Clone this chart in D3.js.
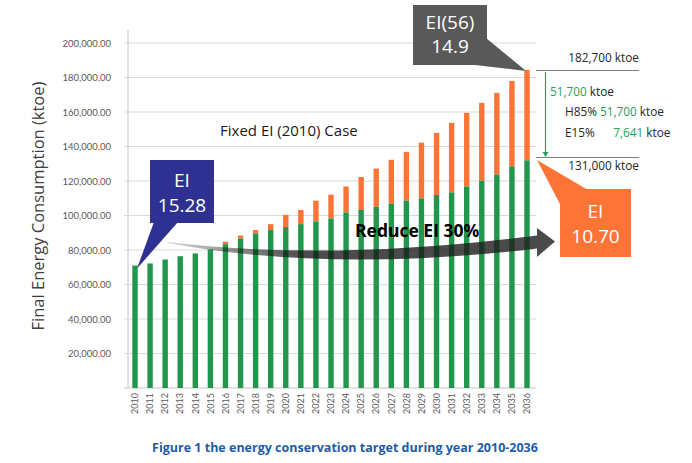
<!DOCTYPE html>
<html>
  <head>
    <meta charset="utf-8">
    <title>Energy conservation target 2010-2036</title>
    <script src="https://d3js.org/d3.v7.min.js" charset="utf-8"></script>
    <style>
      body { margin: 0; background: #fff; }
      svg text { font-family: "Open Sans", sans-serif; }
    </style>
  </head>
  <body>
    <script>
      var width = 692,
          height = 463;

      // data (ktoe)
      var years = [2010, 2011, 2012, 2013, 2014, 2015, 2016, 2017, 2018, 2019,
                   2020, 2021, 2022, 2023, 2024, 2025, 2026, 2027, 2028, 2029,
                   2030, 2031, 2032, 2033, 2034, 2035, 2036];
      // target consumption (green)
      var target = [71000, 72200, 74500, 76400, 78000, 80300, 83400, 86700, 89600, 91600,
                    93300, 95000, 96600, 98300, 101800, 103200, 105100, 106800, 108600, 109900,
                    111900, 113400, 116800, 120200, 123800, 128500, 132000];
      // fixed EI (2010) case total (top of orange)
      var fixedCase = [71000, 72200, 74500, 76400, 78000, 80300, 84800, 88400, 91600, 95000,
                       100400, 103200, 108600, 112100, 116800, 122300, 127200, 132300, 136900, 142200,
                       147900, 153700, 159500, 165300, 171100, 178000, 184400];
      var yTicks = [20000, 40000, 60000, 80000, 100000, 120000, 140000, 160000, 180000, 200000];

      var green = "#22964c",
          orange = "#fd7436",
          gridColor = "#d9d9d9",
          tickColor = "#595959";

      var svg = d3.select("body").append("svg")
          .attr("width", width)
          .attr("height", height);

      var x = d3.scalePoint()
          .domain(years)
          .range([135, 527]);

      var y = d3.scaleLinear()
          .domain([0, 200000])
          .range([388, 43]);

      var barW = 5.4;

      // gridlines
      svg.append("g")
        .selectAll("line")
        .data(yTicks)
        .enter()
        .append("line")
          .attr("x1", 124).attr("x2", 536)
          .attr("y1", function(d) { return y(d); })
          .attr("y2", function(d) { return y(d); })
          .attr("stroke", gridColor);

      // y axis with formatted labels
      var fmt = d3.format(",.2f");
      var yAxis = d3.axisLeft(y)
          .tickValues(yTicks)
          .tickSize(0)
          .tickPadding(0)
          .tickFormat(fmt);
      var gy = svg.append("g")
          .attr("transform", "translate(111,0)")
          .call(yAxis);
      gy.select(".domain").remove();
      gy.selectAll("text")
          .attr("fill", tickColor)
          .style("font-family", "Lato, sans-serif")
          .style("font-size", "9.5px");

      // axis lines
      svg.append("line")
          .attr("x1", 128).attr("x2", 128)
          .attr("y1", 30).attr("y2", y(0))
          .attr("stroke", gridColor).attr("stroke-width", 1.5);
      svg.append("line")
          .attr("x1", 124).attr("x2", 536)
          .attr("y1", y(0)).attr("y2", y(0))
          .attr("stroke", gridColor).attr("stroke-width", 1.5);

      // stacked bars
      var rows = years.map(function(yr, i) {
        return { year: yr, target: target[i], total: fixedCase[i] };
      });

      svg.append("g")
        .selectAll("rect.total")
        .data(rows)
        .enter()
        .append("rect")
          .attr("x", function(d) { return x(d.year) - barW / 2; })
          .attr("width", barW)
          .attr("y", function(d) { return y(d.total); })
          .attr("height", function(d) { return y(d.target) - y(d.total); })
          .attr("fill", orange);

      svg.append("g")
        .selectAll("rect.target")
        .data(rows)
        .enter()
        .append("rect")
          .attr("x", function(d) { return x(d.year) - barW / 2; })
          .attr("width", barW)
          .attr("y", function(d) { return y(d.target); })
          .attr("height", function(d) { return y(0) - y(d.target); })
          .attr("fill", green);

      // year labels
      svg.append("g")
        .selectAll("text")
        .data(years)
        .enter()
        .append("text")
          .attr("transform", function(d) { return "translate(" + (x(d) + 3.2) + ",393) rotate(-90)"; })
          .attr("text-anchor", "end")
          .attr("fill", tickColor)
          .style("font-family", "Lato, sans-serif")
          .style("font-size", "9px")
          .text(function(d) { return d; });

      // y axis title
      svg.append("text")
          .attr("transform", "translate(44,206) rotate(-90)")
          .attr("text-anchor", "middle")
          .attr("fill", "#404040")
          .style("font-size", "16.5px")
          .text("Final Energy Consumption (ktoe)");

      svg.append("text")
          .attr("x", 220).attr("y", 136)
          .attr("fill", "#1a1a1a")
          .style("font-size", "15px")
          .text("Fixed EI (2010) Case");

      // curved "reduce" arrow
      var defs = svg.append("defs");
      var grad = defs.append("linearGradient")
          .attr("id", "arrowGrad")
          .attr("x1", "0%").attr("x2", "100%");
      grad.append("stop").attr("offset", "0%").attr("stop-color", "#000").attr("stop-opacity", 0.15);
      grad.append("stop").attr("offset", "35%").attr("stop-color", "#111").attr("stop-opacity", 0.75);
      grad.append("stop").attr("offset", "100%").attr("stop-color", "#222").attr("stop-opacity", 0.82);

      var ax0 = x(2012) + 3, ax1 = 537;
      var arrowPath = d3.path();
      arrowPath.moveTo(ax0, 242);
      arrowPath.quadraticCurveTo(330, 262, ax1, 235.5);
      arrowPath.lineTo(ax1, 228);
      arrowPath.lineTo(555, 241.5);
      arrowPath.lineTo(ax1, 257);
      arrowPath.lineTo(ax1, 248.5);
      arrowPath.quadraticCurveTo(330, 273, ax0, 243);
      arrowPath.closePath();
      svg.append("path")
          .attr("d", arrowPath.toString())
          .attr("fill", "url(#arrowGrad)");

      svg.append("text")
          .attr("x", 355).attr("y", 237)
          .attr("fill", "#000")
          .style("font-size", "17.5px")
          .style("font-weight", "bold")
          .text("Reduce EI 30%");

      // callouts
      function callout(box, tail, fill, lines, cx, baselines) {
        svg.append("path")
            .attr("d", d3.line()(tail) + "Z")
            .attr("fill", fill);
        svg.append("rect")
            .attr("x", box[0]).attr("y", box[1])
            .attr("width", box[2]).attr("height", box[3])
            .attr("fill", fill);
        lines.forEach(function(t, i) {
          svg.append("text")
              .attr("x", cx).attr("y", baselines[i])
              .attr("text-anchor", "middle")
              .attr("fill", "#fff")
              .style("font-size", "19px")
              .text(t);
        });
      }

      var first = x(years[0]), last = x(years[years.length - 1]);

      callout([150, 160, 64, 63],
              [[154, 222], [first + 2, y(target[0]) + 3], [178, 222]],
              "#2e3192", ["EI", "15.28"], 182, [187, 212]);

      callout([413, 5, 74, 60],
              [[486, 38], [last - 1, y(fixedCase[fixedCase.length - 1]) + 1], [466, 64]],
              "#595959", ["EI(56)", "14.9"], 450, [29, 53]);

      callout([560, 189, 71, 68],
              [[537, 160], [588, 190], [561, 206]],
              orange, ["EI", "10.70"], 595.5, [218, 243]);

      // right side annotations
      var annoGreen = "#23a35a";
      svg.append("line")
          .attr("x1", 536).attr("x2", 639)
          .attr("y1", 70.5).attr("y2", 70.5)
          .attr("stroke", "#7f7f7f");
      svg.append("line")
          .attr("x1", 536).attr("x2", 639)
          .attr("y1", 157.5).attr("y2", 157.5)
          .attr("stroke", "#7f7f7f");

      svg.append("line")
          .attr("x1", 545.5).attr("x2", 545.5)
          .attr("y1", 72).attr("y2", 153)
          .attr("stroke", annoGreen).attr("stroke-width", 1.2);
      svg.append("path")
          .attr("d", "M542.5,152L548.5,152L545.5,157Z")
          .attr("fill", annoGreen);

      function annoText(xp, yp, parts, anchor) {
        var t = svg.append("text")
            .attr("x", xp).attr("y", yp)
            .attr("text-anchor", anchor || "start")
            .style("font-size", "11.8px")
            .attr("xml:space", "preserve");
        parts.forEach(function(p) {
          t.append("tspan").attr("fill", p[1]).text(p[0]);
        });
      }

      annoText(639, 62, [["182,700 ktoe", "#262626"]], "end");
      annoText(639, 170, [["131,000 ktoe", "#262626"]], "end");
      annoText(550, 96, [["51,700", annoGreen], [" ktoe", "#262626"]]);
      annoText(565, 116, [["H85% ", "#262626"], ["51,700", annoGreen], [" ktoe", "#262626"]]);
      annoText(565, 137, [["E15%      ", "#262626"], ["7,641", annoGreen], [" ktoe", "#262626"]]);

      // caption
      svg.append("text")
          .attr("x", 345).attr("y", 452)
          .attr("text-anchor", "middle")
          .attr("fill", "#1d5ca8")
          .style("font-size", "12.5px")
          .style("font-weight", "bold")
          .text("Figure 1 the energy conservation target during year 2010-2036");
    </script>
  </body>
</html>
